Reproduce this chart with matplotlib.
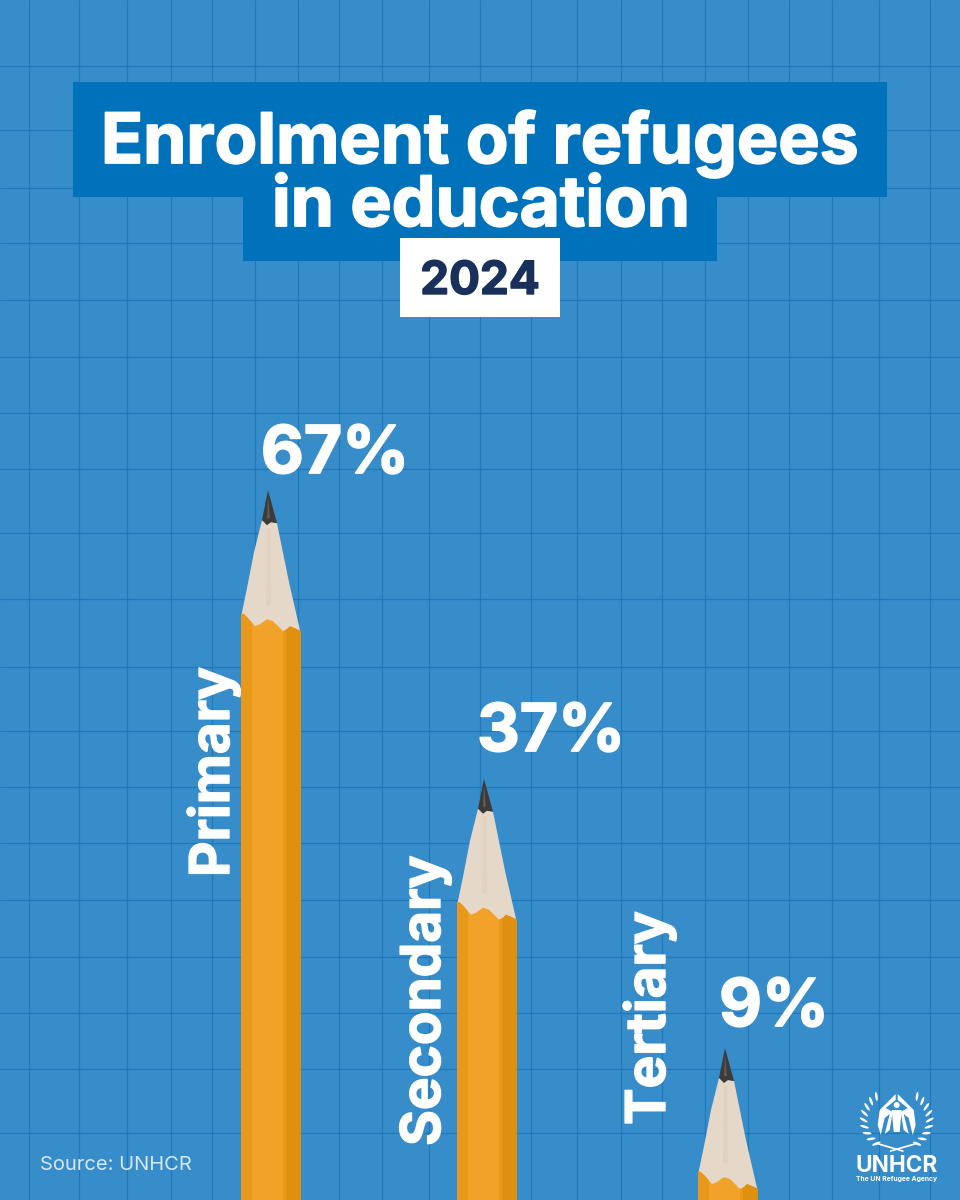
import numpy as np
import matplotlib
matplotlib.use("Agg")
import matplotlib.pyplot as plt
import matplotlib.patheffects as pe
from matplotlib.patches import Rectangle, Polygon, Circle, Ellipse

# Values
levels = ["Primary", "Secondary", "Tertiary"]
enrolment = [67, 37, 9]
value_labels = ["67%", "37%", "9%"]

# Pencil scale: pixel row of a tip = 1134.6 - 9.618 * percent
px_per_pct = 9.618
zero_row = 1134.6

# Layout, in pixels of the 960x1200 picture
pencil_left = [241, 457, 698]
label_x = [335, 551, 774]
label_base = [473, 751, 1026]
level_base_x = [229, 440, 665]
level_start_y = [877, 1146, 1125]

grid_x = [29, 79, 127, 171, 212, 255, 298, 339, 382, 429, 480, 531, 577, 621,
          662, 705, 748, 789, 832, 879, 930]
grid_y = [66, 130, 188, 243, 300, 357, 413, 469, 533, 599, 667, 731, 787, 843,
          900, 957, 1013, 1069, 1133]

BG = "#378cca"
GRID = "#1b76b9"
TITLE_BOX = "#0072bc"
NAVY = "#18305a"
FONT = "Inter"


def heavy(color, width=1.3):
    # Inter bold is lighter than the original lettering
    return [pe.withStroke(linewidth=width, foreground=color)]


fig = plt.figure(figsize=(9.6, 12), dpi=100, facecolor=BG)

# Pixel axes for the paper, title and logo
ax = fig.add_axes([0, 0, 1, 1], zorder=1)
ax.set_xlim(0, 960)
ax.set_ylim(1200, 0)
ax.axis("off")

ax.vlines(grid_x, 0, 1200, color=GRID, lw=0.9, alpha=0.85)
ax.hlines(grid_y, 0, 960, color=GRID, lw=0.9, alpha=0.85)

# Title boxes
ax.add_patch(Rectangle((73, 82), 814, 115, color=TITLE_BOX, lw=0, zorder=3))
ax.add_patch(Rectangle((243, 197), 474, 64, color=TITLE_BOX, lw=0, zorder=3))
ax.add_patch(Rectangle((400, 238), 160, 79, color="white", lw=0, zorder=4))
ax.text(480, 163, "Enrolment of refugees", color="white", fontsize=50, family=FONT,
        weight="bold", ha="center", va="baseline", zorder=5, path_effects=heavy("white"))
ax.text(481, 226, "in education", color="white", fontsize=50, family=FONT,
        weight="bold", ha="center", va="baseline", zorder=5, path_effects=heavy("white"))
ax.text(480, 294, "2024", color=NAVY, fontsize=33, family=FONT,
        weight="bold", ha="center", va="baseline", zorder=5, path_effects=heavy(NAVY, 1))

# Source
ax.text(40, 1170, "Source: UNHCR", color="#d5e9f8", fontsize=14.5, family=FONT,
        ha="left", va="baseline", zorder=5)

# Pencil axes: x in pixels, y in percent
ax_v = fig.add_axes([0, 0, 1, 1], zorder=2)
ax_v.set_xlim(0, 960)
ax_v.set_ylim((zero_row - 1200) / px_per_pct, zero_row / px_per_pct)
ax_v.axis("off")
ax_v.patch.set_alpha(0)


def pts(tip_x, value, offsets):
    # offsets are pixels right of and below the pencil tip
    return [(tip_x + dx, value - dy / px_per_pct) for dx, dy in offsets]


scallop = [(-27, 123), (-24, 124), (-20, 128), (-13, 136), (-8, 134), (-1, 129), (5, 131),
           (15, 141), (19, 139), (22, 136), (27, 138), (33, 141)]
wood_shape = [(-6, 30), (-14, 62), (-21, 98), (-26, 122), (-26, 150), (33, 150), (32, 140), (21, 92), (9, 33)]
bottom = ax_v.get_ylim()[0]

for left, value in zip(pencil_left, enrolment):
    tip = left + 27
    ax_v.add_patch(Polygon(pts(tip, value, wood_shape), color="#e5d8c9", lw=0, zorder=2))
    ax_v.add_patch(Polygon(pts(tip, value, [(-1, 38), (2, 38), (3, 115), (-2, 115)]),
                           color="#dfd1c1", lw=0, zorder=2.1))
    ax_v.add_patch(Polygon(pts(tip, value, [(0, 0), (-6, 30), (-1, 35), (3, 32), (9, 33)]),
                           color="#3d3a38", lw=0, zorder=2.2))
    ax_v.add_patch(Polygon(pts(tip, value, [(0, 6), (-1, 28), (2, 28)]),
                           color="#5d5a58", lw=0, zorder=2.3))

    # body: three facets of one bar, the top cut to the scalloped edge
    outline = Polygon(pts(tip, value, scallop + [(33, 1300), (-27, 1300)]), transform=ax_v.transData,
                      fill=False, lw=0)
    ax_v.add_patch(outline)
    for x0, w, c in [(0, 60, "#f1a228"), (0, 11, "#e8981a"), (42, 4, "#e99a1c"), (45, 15, "#e0900f")]:
        bars = ax_v.bar(left + x0, value - bottom, width=w, bottom=bottom, align="edge",
                        color=c, lw=0, zorder=2.5)
        for b in bars:
            b.set_clip_path(outline)

for text, x, y in zip(value_labels, label_x, label_base):
    ax.text(x, y, text, color="white", fontsize=47.5, family=FONT, weight="bold",
            ha="center", va="baseline", zorder=5, path_effects=heavy("white"))

for text, x, y in zip(levels, level_base_x, level_start_y):
    ax.text(x, y, text, color="white", fontsize=39.5, family=FONT, weight="bold", rotation=90,
            rotation_mode="anchor", ha="left", va="baseline", zorder=5, path_effects=heavy("white", 1))

# UNHCR logo
LOGO_X = 896.7
ax.text(LOGO_X, 1172.5, "UNHCR", color="white", fontsize=16.3, family=FONT, weight="bold",
        ha="center", va="baseline", zorder=5)
ax.text(LOGO_X, 1181.5, "The UN Refugee Agency", color="white", fontsize=4.9, family=FONT,
        weight="bold", ha="center", va="baseline", zorder=5)

for side in (-1, 1):
    hand = [(1, 1094), (17, 1110), (19, 1125), (16, 1135), (12, 1118), (7, 1114), (12, 1134), (7, 1130),
            (4, 1112), (11, 1108), (1, 1100)]
    ax.add_patch(Polygon([(LOGO_X + side * dx, y) for dx, y in hand], color="white", lw=0, zorder=5))
    for a in np.arange(-52, 62, 13):
        r = np.radians(a)
        cx = LOGO_X + side * 33 * np.cos(r)
        cy = 1120 + 30 * np.sin(r)
        tilt = side * (a + 60)
        ax.add_patch(Ellipse((cx, cy), 2.5, 9, angle=tilt, color="white", lw=0, zorder=5))
    ax.plot([LOGO_X + side * 18, LOGO_X - side * 6], [1144, 1151], color="white", lw=1.2, zorder=5)

ax.add_patch(Circle((LOGO_X, 1105), 3, color="white", lw=0, zorder=5))
ax.add_patch(Polygon([(LOGO_X - 5, 1110), (LOGO_X + 5, 1110), (LOGO_X + 3, 1132), (LOGO_X - 3, 1132)],
                     color="white", lw=0, zorder=5))

fig.savefig("out.png", dpi=100, facecolor=BG)
